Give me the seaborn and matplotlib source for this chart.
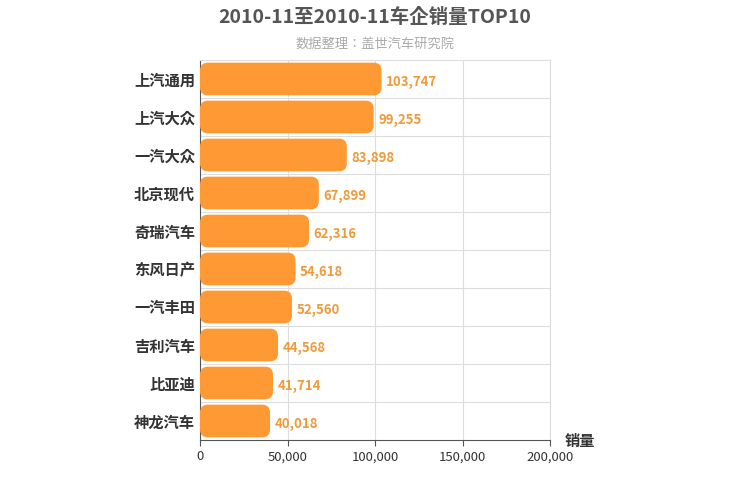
import matplotlib
matplotlib.use("Agg")
import matplotlib.pyplot as plt
import seaborn as sns
import pandas as pd
from matplotlib.patches import FancyBboxPatch

plt.rcParams['font.family'] = 'sans-serif'
plt.rcParams['font.sans-serif'] = ['Noto Sans CJK SC', 'Noto Sans CJK JP', 'Noto Sans CJK TC',
                                   'Noto Sans CJK KR', 'DejaVu Sans']

brands = ['上汽通用', '上汽大众', '一汽大众', '北京现代', '奇瑞汽车',
          '东风日产', '一汽丰田', '吉利汽车', '比亚迪', '神龙汽车']
sales = [103747, 99255, 83898, 67899, 62316, 54618, 52560, 44568, 41714, 40018]
xticks = [0, 50000, 100000, 150000, 200000]

df = pd.DataFrame({'brand': brands, 'sales': sales})
color = '#FF9933'

fig = plt.figure(figsize=(7.5, 5), dpi=100)
ax = fig.add_axes([200/750, 60/500, 350/750, 380/500])
sns.barplot(data=df, x='sales', y='brand', color=color, width=0.86, ax=ax)

# swap plain bars for rounded ones
for p in list(ax.patches):
    x, y, w, h = p.get_x(), p.get_y(), p.get_width(), p.get_height()
    p.remove()
    ax.add_patch(FancyBboxPatch((x, y), w, h,
                                boxstyle="round,pad=0,rounding_size=4500",
                                mutation_aspect=0.21 / 4500,
                                fc=color, ec='none', zorder=3))

for i, v in enumerate(sales):
    ax.text(v + 2500, i + 0.08, f'{v:,}', va='center', ha='left',
            color='#F09A3A', fontsize=9.5, fontweight='bold')

ax.set_xlim(0, 200000)
ax.set_ylim(9.5, -0.5)
ax.set_xticks(xticks)
ax.set_xticklabels([f'{t:,}' for t in xticks], fontsize=9.5, color='#333333')
ax.set_yticks(range(len(brands)))
ax.set_yticklabels(brands, fontsize=11, fontweight='bold', color='#333333')
ax.set_yticks([i - 0.5 for i in range(1, len(brands))], minor=True)
ax.tick_params(axis='y', which='both', length=0)
ax.tick_params(axis='x', length=4, color='#555555')
ax.grid(axis='x', color='#DDDDDD', lw=0.8, zorder=0)
ax.grid(axis='y', which='minor', color='#DDDDDD', lw=0.8, zorder=0)
ax.grid(axis='y', which='major', visible=False)
ax.set_axisbelow(True)
for s in ['top', 'right']:
    ax.spines[s].set_color('#DDDDDD')
ax.spines['bottom'].set_color('#555555')
ax.spines['left'].set_color('#555555')
ax.set_ylabel('')
ax.set_xlabel('')

fig.text(0.5, 0.965, '2010-11至2010-11车企销量TOP10', ha='center', va='center',
         fontsize=14, fontweight='bold', color='#555555')
fig.text(0.5, 0.912, '数据整理：盖世汽车研究院', ha='center', va='center',
         fontsize=9.5, color='#AAAAAA')
fig.text(565/750, 1 - 441/500, '销量', ha='left', va='center',
         fontsize=11, fontweight='bold', color='#333333')

fig.savefig('out.png', dpi=100)
